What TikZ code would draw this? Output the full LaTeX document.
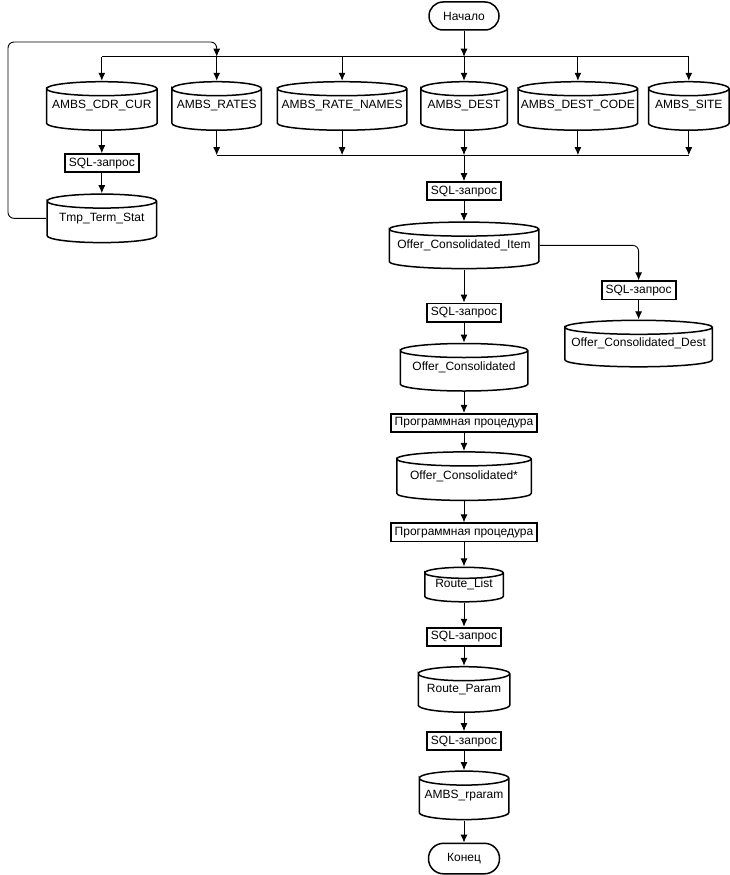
\documentclass[tikz,border=0pt]{standalone}
\usepackage{fontspec}
\setmainfont{Liberation Sans}
\usetikzlibrary{positioning,calc,arrows.meta}

\begin{document}
\begin{tikzpicture}[
    x=1pt, y=1pt,
    node distance=20pt and 12pt,
    font=\fontsize{12}{14}\selectfont,
    lid/.initial=7pt,
    table/.style={
        rectangle,
        minimum height=50pt,
        inner sep=1pt,
        path picture={
            \draw [line width=1.5pt]
                let \p1 = (path picture bounding box.north west),
                    \p2 = (path picture bounding box.south east),
                    \n1 = {(\x2-\x1)/2-0.75pt},
                    \n2 = {\pgfkeysvalueof{/tikz/lid}}
                in
                (\x1+0.75pt, \y1-\n2-0.75pt)
                    arc [start angle=180, end angle=-180, x radius=\n1, y radius=\n2]
                -- (\x1+0.75pt, \y2+\n2+0.75pt)
                    arc [start angle=180, end angle=360, x radius=\n1, y radius=\n2]
                -- (\x2-0.75pt, \y1-\n2-0.75pt);
        }
    },
    query/.style={
        rectangle,
        draw,
        fill=white,
        line width=1.8pt,
        minimum height=18.2pt,
        inner xsep=4pt,
        inner ysep=2pt
    },
    term/.style={
        rectangle,
        rounded corners=14pt,
        draw,
        line width=1.5pt,
        minimum height=28pt,
        minimum width=70pt
    },
    line/.style={
        draw,
        -{Latex[length=8pt,width=7pt]},
        line width=0.9pt
    },
    bus/.style={
        draw,
        line width=0.9pt
    }
]

    \useasboundingbox (0,0) rectangle (730,-875);

    % --- Start ---
    \node [term] (start) at (464,-16) {Начало};
    \coordinate [below=26pt of start] (bus1);

    % --- Source tables ---
    \node [table, minimum width=88pt, below=24pt of bus1] (dest) {AMBS\_DEST};
    \node [table, minimum width=131pt, left=12pt of dest] (ratenames) {AMBS\_RATE\_NAMES};
    \node [table, minimum width=91pt, left=14pt of ratenames] (rates) {AMBS\_RATES};
    \node [table, minimum width=112pt, left=13pt of rates] (cdr) {AMBS\_CDR\_CUR};
    \node [table, minimum width=121pt, right=9pt of dest] (destcode) {AMBS\_DEST\_CODE};
    \node [table, minimum width=82pt, right=9pt of destcode] (site) {AMBS\_SITE};
    \coordinate [below=24pt of dest] (bus2);

    % --- Left branch: CDR -> Tmp ---
    \node [query, below=22pt of cdr] (sqlcdr) {SQL-запрос};
    \node [table, minimum width=111pt, below=20pt of sqlcdr] (tmp) {Tmp\_Term\_Stat};
    \coordinate (loop) at (8,-42);

    % --- Main column ---
    \node [query, below=26pt of bus2] (sqlitem) {SQL-запрос};
    \node [table, minimum width=151pt, minimum height=48pt, below=20pt of sqlitem] (item) {Offer\_Consolidated\_Item};
    \node [query, below=33pt of item] (sqloc) {SQL-запрос};
    \node [table, minimum width=129pt, minimum height=49pt, below=20pt of sqloc] (oc) {Offer\_Consolidated};
    \node [query, below=21pt of oc] (proc1) {Программная процедура};
    \node [table, minimum width=136pt, below=18pt of proc1] (ocstar) {Offer\_Consolidated*};
    \node [query, below=21pt of ocstar] (proc2) {Программная процедура};
    \node [table, minimum width=80pt, minimum height=36pt, lid=5.5pt, below=24pt of proc2] (rlist) {Route\_List};
    \node [query, below=24pt of rlist] (sqlrp) {SQL-запрос};
    \node [table, minimum width=93pt, minimum height=47pt, below=19pt of sqlrp] (rparam) {Route\_Param};
    \node [query, below=18pt of rparam] (sqlrr) {SQL-запрос};
    \node [table, minimum width=91pt, below=19pt of sqlrr] (rrparam) {AMBS\_rparam};
    \node [term, minimum width=71pt, minimum height=30.5pt, rounded corners=15pt, below=22pt of rrparam] (finish) {Конец};

    % --- Right branch: Item -> Dest ---
    \node [query, right=61pt of item, yshift=-45pt] (sqldest) {SQL-запрос};
    \node [table, minimum width=149pt, minimum height=48pt, below=19pt of sqldest] (ocdest) {Offer\_Consolidated\_Dest};

    % --- Connections ---

    % Start -> top bus -> tables
    \path [line] (start) -- (bus1);
    \path [bus] (cdr |- bus1) -- (site |- bus1);
    \path [line] (cdr |- bus1) -- (cdr);
    \path [line] (rates |- bus1) -- (rates);
    \path [line] (ratenames |- bus1) -- (ratenames);
    \path [line] (dest |- bus1) -- (dest);
    \path [line] (destcode |- bus1) -- (destcode);
    \path [line] (site |- bus1) -- (site);

    % Tmp loops back to the top bus
    \path [line, rounded corners=6pt] (tmp.west) -| (loop) -| (rates |- bus1);

    % CDR -> SQL -> Tmp
    \path [line] (cdr) -- (sqlcdr);
    \path [line] (sqlcdr) -- (tmp);

    % Tables -> bottom bus -> SQL
    \path [bus] (rates |- bus2) -- (site |- bus2);
    \path [line] (rates) -- (rates |- bus2);
    \path [line] (ratenames) -- (ratenames |- bus2);
    \path [line] (dest) -- (dest |- bus2);
    \path [line] (destcode) -- (destcode |- bus2);
    \path [line] (site) -- (site |- bus2);
    \path [line] (bus2) -- (sqlitem);

    % Main chain
    \path [line] (sqlitem) -- (item);
    \path [line] (item) -- (sqloc);
    \path [line] (sqloc) -- (oc);
    \path [line] (oc) -- (proc1);
    \path [line] (proc1) -- (ocstar);
    \path [line] (ocstar) -- (proc2);
    \path [line] (proc2) -- (rlist);
    \path [line] (rlist) -- (sqlrp);
    \path [line] (sqlrp) -- (rparam);
    \path [line] (rparam) -- (sqlrr);
    \path [line] (sqlrr) -- (rrparam);
    \path [line] (rrparam) -- (finish);

    % Side branch
    \path [line, rounded corners=6pt] (item.east) -| (sqldest);
    \path [line] (sqldest) -- (ocdest);

\end{tikzpicture}
\end{document}
